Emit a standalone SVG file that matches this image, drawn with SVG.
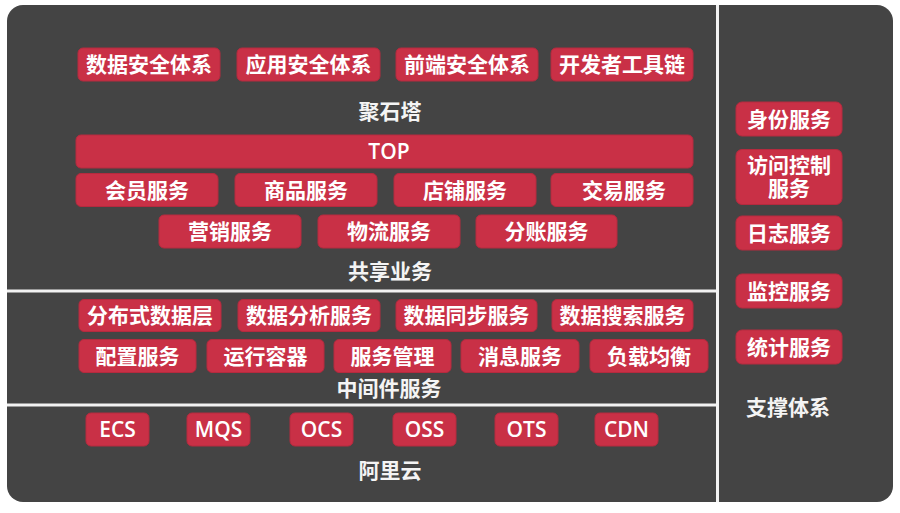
<svg xmlns="http://www.w3.org/2000/svg" width="900" height="513" viewBox="0 0 900 513">
<style>
.box{fill:#c93046;stroke:#b52a3e;stroke-width:1}
.t{font-family:"Noto Sans CJK SC","Open Sans",sans-serif;font-size:21px;fill:#ffffff;text-anchor:middle;dominant-baseline:central;font-weight:bold}
.lat{font-family:"Open Sans","Noto Sans CJK SC",sans-serif;font-size:21px;font-weight:600}
.lbl{font-family:"Noto Sans CJK SC","Open Sans",sans-serif;font-size:21px;fill:#f4f4f4;text-anchor:middle;dominant-baseline:central;font-weight:bold}
.div{fill:#f2f2f2}
</style>
<rect x="0" y="0" width="900" height="513" fill="#ffffff"/>
<rect id="panel" x="7" y="5" width="886" height="497" rx="16" fill="#444444"/>
<g id="dividers">
<rect class="div" x="716" y="5" width="3" height="497"/>
<rect class="div" x="7" y="289.5" width="709" height="3"/>
<rect class="div" x="7" y="403.5" width="709" height="3"/>
</g>
<g id="connectors"/>
<g id="labels">
<text class="lbl" x="390" y="110">聚石塔</text>
<text class="lbl" x="390" y="270">共享业务</text>
<text class="lbl" x="389" y="386.5">中间件服务</text>
<text class="lbl" x="390" y="468.5">阿里云</text>
<text class="lbl" x="788" y="406">支撑体系</text>
</g>
<g id="n-shujuanquan"><rect class="box" x="78" y="48" width="142" height="33" rx="5"/><text class="t" x="149" y="63">数据安全体系</text></g>
<g id="n-yingyonganquan"><rect class="box" x="237" y="48" width="143" height="33" rx="5"/><text class="t" x="308.5" y="63">应用安全体系</text></g>
<g id="n-qianduananquan"><rect class="box" x="396" y="48" width="142" height="33" rx="5"/><text class="t" x="467" y="63">前端安全体系</text></g>
<g id="n-kaifazhe"><rect class="box" x="551" y="48" width="142" height="33" rx="5"/><text class="t" x="622" y="63">开发者工具链</text></g>
<g id="n-top"><rect class="box" x="76" y="135" width="617" height="33" rx="5"/><text class="t lat" x="389" y="150.5">TOP</text></g>
<g id="n-huiyuan"><rect class="box" x="76" y="173.5" width="142" height="33" rx="5"/><text class="t" x="147" y="188.5">会员服务</text></g>
<g id="n-shangpin"><rect class="box" x="235" y="173.5" width="142" height="33" rx="5"/><text class="t" x="306" y="188.5">商品服务</text></g>
<g id="n-dianpu"><rect class="box" x="394" y="173.5" width="142" height="33" rx="5"/><text class="t" x="465" y="188.5">店铺服务</text></g>
<g id="n-jiaoyi"><rect class="box" x="551" y="173.5" width="142" height="33" rx="5"/><text class="t" x="624" y="188.5">交易服务</text></g>
<g id="n-yingxiao"><rect class="box" x="159" y="215" width="142" height="33" rx="5"/><text class="t" x="230" y="230">营销服务</text></g>
<g id="n-wuliu"><rect class="box" x="318" y="215" width="142" height="33" rx="5"/><text class="t" x="389" y="230">物流服务</text></g>
<g id="n-fenzhang"><rect class="box" x="476" y="215" width="141" height="33" rx="5"/><text class="t" x="546.5" y="230">分账服务</text></g>
<g id="n-fenbushi"><rect class="box" x="79" y="299.5" width="142" height="32" rx="5"/><text class="t" x="150" y="314">分布式数据层</text></g>
<g id="n-shujufenxi"><rect class="box" x="238" y="299.5" width="142" height="32" rx="5"/><text class="t" x="309" y="314">数据分析服务</text></g>
<g id="n-shujutongbu"><rect class="box" x="396" y="299.5" width="141" height="32" rx="5"/><text class="t" x="466.5" y="314">数据同步服务</text></g>
<g id="n-shujusousuo"><rect class="box" x="552" y="299.5" width="141" height="32" rx="5"/><text class="t" x="622.5" y="314">数据搜索服务</text></g>
<g id="n-peizhi"><rect class="box" x="79" y="339.5" width="117" height="33" rx="5"/><text class="t" x="137.5" y="354.5">配置服务</text></g>
<g id="n-yunxing"><rect class="box" x="207" y="339.5" width="117" height="33" rx="5"/><text class="t" x="265.5" y="354.5">运行容器</text></g>
<g id="n-fuwuguanli"><rect class="box" x="334" y="339.5" width="117" height="33" rx="5"/><text class="t" x="392.5" y="354.5">服务管理</text></g>
<g id="n-xiaoxi"><rect class="box" x="461" y="339.5" width="118" height="33" rx="5"/><text class="t" x="520" y="354.5">消息服务</text></g>
<g id="n-fuzai"><rect class="box" x="590" y="339.5" width="118" height="33" rx="5"/><text class="t" x="649" y="354.5">负载均衡</text></g>
<g id="n-ecs"><rect class="box" x="86" y="413" width="63" height="33" rx="5"/><text class="t lat" x="117.5" y="428.5">ECS</text></g>
<g id="n-mqs"><rect class="box" x="187" y="413" width="63" height="33" rx="5"/><text class="t lat" x="218.5" y="428.5">MQS</text></g>
<g id="n-ocs"><rect class="box" x="290" y="413" width="63" height="33" rx="5"/><text class="t lat" x="321.5" y="428.5">OCS</text></g>
<g id="n-oss"><rect class="box" x="393" y="413" width="63" height="33" rx="5"/><text class="t lat" x="424.5" y="428.5">OSS</text></g>
<g id="n-ots"><rect class="box" x="495" y="413" width="63" height="33" rx="5"/><text class="t lat" x="526.5" y="428.5">OTS</text></g>
<g id="n-cdn"><rect class="box" x="595" y="413" width="63" height="33" rx="5"/><text class="t lat" x="626.5" y="428.5">CDN</text></g>
<g id="n-shenfen"><rect class="box" x="736" y="102" width="106" height="34" rx="6"/><text class="t" x="789" y="117.5">身份服务</text></g>
<g id="n-fangwen"><rect class="box" x="736" y="149.5" width="106" height="55" rx="6"/><text class="t" x="789" y="163.5"><tspan x="789" y="163.5">访问控制</tspan><tspan x="789" y="187">服务</tspan></text></g>
<g id="n-rizhi"><rect class="box" x="736" y="216" width="106" height="34" rx="6"/><text class="t" x="789" y="231.5">日志服务</text></g>
<g id="n-jiankong"><rect class="box" x="736" y="274" width="106" height="34" rx="6"/><text class="t" x="789" y="289.5">监控服务</text></g>
<g id="n-tongji"><rect class="box" x="736" y="330" width="106" height="34" rx="6"/><text class="t" x="789" y="345.5">统计服务</text></g>
</svg>
